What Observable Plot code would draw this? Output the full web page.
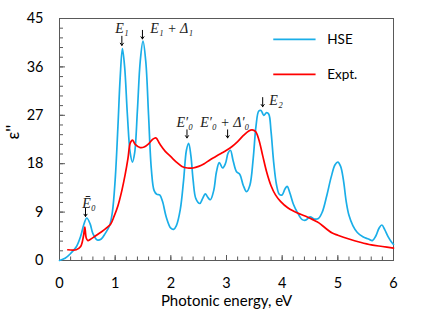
<!DOCTYPE html>
<html>
<head>
<meta charset="utf-8">
<script src="https://cdn.jsdelivr.net/npm/d3@7"></script>
<script src="https://cdn.jsdelivr.net/npm/@observablehq/plot@0.6"></script>
<style>
  html, body { margin: 0; padding: 0; background: #fff; }
  #chart { width: 436px; height: 327px; }
</style>
</head>
<body>
<div id="chart"></div>
<script>
// HSE (theory) curve: photon energy (eV) and epsilon''
const hseE = [0,0.1,0.2,0.3,0.38,0.44,0.49,0.55,0.6,0.68,0.75,0.82,0.9,0.95,1.0,1.05,1.09,1.13,1.17,1.22,1.27,1.31,1.35,1.4,1.45,1.5,1.55,1.6,1.65,1.7,1.75,1.8,1.85,1.92,2.0,2.05,2.1,2.17,2.23,2.28,2.32,2.36,2.4,2.45,2.52,2.57,2.62,2.66,2.71,2.77,2.82,2.87,2.93,2.98,3.03,3.07,3.12,3.18,3.24,3.3,3.36,3.42,3.48,3.53,3.58,3.62,3.67,3.72,3.76,3.8,3.85,3.9,3.95,4.0,4.05,4.09,4.14,4.2,4.28,4.36,4.42,4.5,4.58,4.65,4.72,4.8,4.88,4.95,5.0,5.05,5.1,5.15,5.2,5.27,5.35,5.45,5.55,5.62,5.68,5.74,5.79,5.84,5.9,5.96,6.0];
const hseEps = [0,0.4,1.3,2.5,4.5,6.8,7.9,6.8,5.0,3.8,4.0,5.0,6.5,9,15,25,34,39.4,36,27,20,18.3,20,28,37,40.8,37,27,17,13,12.3,12.2,11,8,6.0,5.8,6.5,9.5,15,20.5,21.8,19.5,15,11.5,10.6,11.5,12.4,11.8,11.3,13,16.5,18.2,17.2,18,20,20.5,18.5,16.5,16,14,12.8,14,19,25,27.8,27.9,27.0,27.5,27.2,24,18,14,12.3,12.2,13.3,13.8,12.5,10.5,8.8,7.6,7.5,8.1,7.7,7.8,9,12,15.5,17.8,18.3,17.5,15,11,8.4,6.5,5.2,4.4,4.0,3.7,4.5,6.0,6.6,5.8,4.5,3.5,3.0];

// Experimental curve
const exptE = [0.15,0.3,0.38,0.43,0.455,0.48,0.51,0.55,0.65,0.75,0.85,0.92,0.98,1.05,1.12,1.18,1.23,1.27,1.31,1.36,1.45,1.52,1.6,1.67,1.73,1.8,1.9,2.0,2.1,2.2,2.3,2.4,2.5,2.6,2.7,2.8,2.9,3.0,3.1,3.2,3.3,3.4,3.46,3.52,3.58,3.65,3.72,3.8,3.88,3.97,4.1,4.2,4.33,4.45,4.55,4.66,4.78,4.9,5.0,5.2,5.4,5.6,5.8,6.0];
const exptEps = [2.0,2.0,2.6,4.5,6.2,4.2,3.7,3.9,4.6,5.3,6.1,6.8,8.2,10.2,13,16,19,21.8,22.4,21.6,21.0,21.1,21.7,22.5,22.8,21.7,20.3,19.3,18.3,17.5,17.2,17.2,17.5,18.0,18.7,19.3,19.9,20.5,21.2,22.1,23.2,24.1,24.3,24,22.5,19.5,16.5,13.9,12.2,11,9.8,9.2,8.6,8.1,7.6,7.0,6.0,5.1,4.7,4.0,3.4,2.9,2.6,2.3];

// Tick values
const xMajorTicks = [0,1,2,3,4,5,6];
const xMinorTicks = d3.range(31).map(i => i * 0.2);
const yMajorTicks = [0,9,18,27,36,45];
const yMinorTicks = d3.range(26).map(i => i * 1.8);

// Annotations (transition labels)
const annLabels = ["Ē₀", "E₁", "E₁ + Δ₁", "E′₀", "E′₀ + Δ′₀", "E₂"];
const annX = [0.41, 1.12, 1.63, 2.25, 2.97, 3.77];
const annY = [10.6, 43.2, 43.2, 25.6, 25.6, 29.75];
const annAnchor = ["start", "middle", "start", "middle", "middle", "start"];
const arrowX = [0.467, 1.12, 1.49, 2.29, 3.02, 3.65];
const arrowTop = [9.7, 41.7, 42.8, 24.3, 24.3, 30.3];
const arrowBottom = [8.2, 40.0, 41.2, 22.8, 22.8, 28.6];

// Legend
const seriesNames = ["HSE", "Expt."];
const seriesColors = ["#1AAEE8", "#FF0000"];
const legendY = [41.1, 34.6];

const hse = hseE.map((e, i) => ({e, v: hseEps[i]}));
const expt = exptE.map((e, i) => ({e, v: exptEps[i]}));
const ann = annLabels.map((t, i) => ({t, x: annX[i], y: annY[i], a: annAnchor[i]}));
const arrows = arrowX.map((x, i) => ({x, y1: arrowTop[i], y2: arrowBottom[i]}));
const legend = seriesNames.map((n, i) => ({n, c: seriesColors[i], y: legendY[i]}));

const font = "Lato, 'Open Sans', sans-serif";
const axisColor = "#595959";
const annStyle = {x: "x", y: "y", text: "t", fontFamily: "'Liberation Serif', serif", fontStyle: "italic", fontSize: 14, fill: "#222"};

const chart = Plot.plot({
  width: 436,
  height: 327,
  marginLeft: 59,
  marginRight: 43,
  marginTop: 18,
  marginBottom: 67,
  x: {domain: [0, 6]},
  y: {domain: [0, 45]},
  style: {fontFamily: font, fontSize: "14px", color: "#000", background: "#fff", overflow: "visible"},
  marks: [
    Plot.frame({stroke: axisColor, strokeWidth: 1}),
    Plot.axisX(xMinorTicks, {tickSize: -3.5, fill: "none", stroke: axisColor}),
    Plot.axisX(xMajorTicks, {tickSize: -5, fill: "none", stroke: axisColor}),
    Plot.axisX(xMajorTicks, {tickSize: 0, tickPadding: 17, fontSize: 14.5, fill: "#000", tickFormat: d => String(d)}),
    Plot.axisY(yMinorTicks, {tickSize: -4, fill: "none", stroke: axisColor}),
    Plot.axisY(yMajorTicks, {tickSize: -6, fill: "none", stroke: axisColor}),
    Plot.axisY(yMajorTicks, {tickSize: 0, tickPadding: 16, fontSize: 14.5, fill: "#000", tickFormat: d => String(d)}),
    Plot.text(["Photonic energy, eV"], {frameAnchor: "bottom", dy: 45, fontSize: 15, fill: "#000"}),
    Plot.text(["ε''"], {frameAnchor: "left", dx: -46, rotate: -90, fontSize: 17, fill: "#000"}),
    Plot.line(hse, {x: "e", y: "v", stroke: seriesColors[0], strokeWidth: 1.7, curve: "catmull-rom"}),
    Plot.line(expt, {x: "e", y: "v", stroke: seriesColors[1], strokeWidth: 1.7, curve: "catmull-rom"}),
    Plot.arrow(arrows, {x: "x", y1: "y1", y2: "y2", stroke: "#000", strokeWidth: 1, headLength: 4, headAngle: 70}),
    Plot.text(ann.filter(d => d.a === "start"), {...annStyle, textAnchor: "start"}),
    Plot.text(ann.filter(d => d.a === "middle"), {...annStyle, textAnchor: "middle"}),
    Plot.link(legend, {x1: () => 3.84, x2: () => 4.6, y1: "y", y2: "y", stroke: "c", strokeWidth: 1.7}),
    Plot.text(legend, {x: () => 4.81, y: "y", text: "n", textAnchor: "start", fontSize: 13.5, fill: "#000"})
  ]
});
document.getElementById("chart").appendChild(chart);
</script>
</body>
</html>
